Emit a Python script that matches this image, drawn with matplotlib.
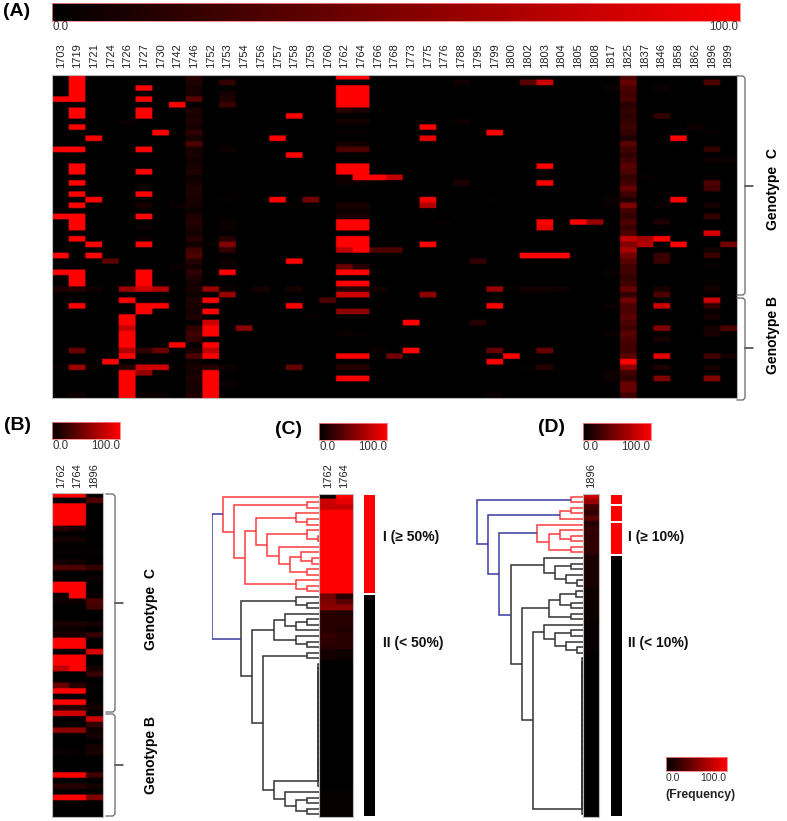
#!/usr/bin/env python3

import matplotlib
matplotlib.use('Agg')
import matplotlib.pyplot as plt
from matplotlib.colors import LinearSegmentedColormap
import numpy as np

plt.rcParams['font.family'] = ['Liberation Sans', 'DejaVu Sans']

W, H = 787, 821
nr_rows = 58

positions = [1703, 1719, 1721, 1724, 1726, 1727, 1730, 1742, 1746, 1752, 1753, 1754, 1756, 1757,
             1758, 1759, 1760, 1762, 1764, 1766, 1768, 1773, 1775, 1776, 1788, 1795, 1799, 1800,
             1802, 1803, 1804, 1805, 1808, 1817, 1825, 1837, 1846, 1858, 1862, 1896, 1899]

# frequency per sample row, rows not listed are 0
f1703 = {4: 100, 13: 100, 25: 100, 32: 100, 35: 100, 38: 12, 52: 4}
f1719 = {0: 100, 1: 100, 2: 100, 3: 100, 4: 100, 6: 100, 7: 100, 9: 100, 13: 100, 16: 100, 17: 100,
         19: 100, 21: 100, 23: 100, 25: 100, 26: 100, 27: 100, 29: 100, 35: 100, 36: 100, 37: 100,
         38: 15, 41: 100, 49: 40, 52: 62, 57: 5}
f1721 = {11: 100, 22: 100, 30: 100, 32: 100, 38: 6, 52: 5}
f1724 = {33: 35, 51: 100}
f1726 = {8: 4, 38: 60, 40: 100, 43: 100, 44: 100, 45: 78, 46: 100, 47: 100, 48: 100, 49: 70, 50: 100,
         52: 15, 53: 100, 54: 100, 55: 100, 56: 100, 57: 100}
f1727 = {2: 100, 4: 100, 6: 100, 7: 100, 13: 100, 17: 100, 19: 3, 21: 100, 23: 10, 25: 100, 27: 5,
         29: 5, 30: 100, 35: 100, 36: 100, 37: 100, 38: 80, 41: 100, 42: 100, 49: 18, 52: 82, 53: 58, 57: 5}
f1730 = {10: 100, 38: 70, 41: 100, 49: 40, 52: 82, 57: 5}
f1742 = {5: 100, 23: 4, 34: 4, 48: 100}
f1746 = {0: 15, 1: 12, 2: 8, 3: 10, 4: 35, 6: 12, 7: 10, 8: 12, 9: 8, 10: 18, 11: 8, 12: 30, 13: 10,
         14: 10, 15: 7, 16: 10, 17: 12, 18: 5, 19: 8, 20: 12, 21: 12, 22: 10, 23: 8, 24: 5, 25: 12,
         26: 15, 27: 12, 28: 8, 29: 15, 30: 5, 31: 25, 32: 30, 33: 15, 34: 8, 35: 18, 36: 12, 37: 8,
         38: 10, 39: 5, 40: 12, 41: 10, 42: 8, 43: 12, 44: 3, 45: 18, 46: 25, 47: 20, 49: 10, 50: 30,
         51: 5, 52: 10, 53: 8, 54: 12, 55: 10, 56: 8, 57: 12}
f1752 = {30: 3, 38: 60, 40: 100, 42: 100, 44: 80, 45: 100, 46: 100, 48: 100, 49: 75, 50: 100, 52: 15,
         53: 100, 54: 100, 55: 100, 56: 100, 57: 100}
f1753 = {1: 20, 3: 8, 4: 12, 5: 22, 13: 5, 22: 3, 26: 4, 27: 4, 29: 15, 30: 50, 31: 20, 33: 5, 34: 5,
         35: 100, 38: 5, 39: 60, 52: 5, 55: 5}
f1754 = {45: 55, 51: 2}
f1756 = {38: 10}
f1757 = {11: 100, 22: 100, 52: 3}
f1758 = {7: 100, 14: 100, 23: 3, 33: 100, 38: 10, 41: 100, 52: 40}
f1759 = {22: 45, 43: 3}
f1760 = {40: 30}
f1762 = {0: 100, 2: 100, 3: 100, 4: 100, 5: 100, 6: 15, 8: 8, 10: 3, 12: 8, 13: 30, 16: 100, 17: 100,
         18: 5, 19: 5, 23: 10, 24: 5, 25: 10, 26: 100, 27: 100, 29: 100, 30: 100, 31: 75, 34: 40,
         35: 100, 37: 100, 38: 15, 39: 80, 42: 55, 46: 5, 50: 100, 52: 15, 54: 100}
f1764 = {0: 100, 2: 100, 3: 100, 4: 100, 5: 100, 6: 10, 8: 8, 10: 3, 12: 6, 13: 30, 16: 100, 17: 100,
         18: 100, 19: 5, 23: 10, 24: 5, 25: 10, 26: 100, 27: 100, 29: 100, 30: 100, 31: 100, 34: 15,
         35: 100, 37: 100, 38: 15, 39: 80, 42: 55, 46: 3, 50: 100, 52: 15, 54: 100}
f1766 = {18: 100, 31: 30, 38: 8, 49: 5}
f1768 = {18: 75, 31: 30, 50: 45}
f1773 = {44: 100, 49: 100}
f1775 = {9: 100, 11: 92, 22: 95, 23: 70, 30: 100, 39: 55}
f1776 = {26: 3}
f1788 = {1: 8, 8: 6, 19: 12}
f1795 = {33: 20, 44: 15}
f1799 = {10: 100, 22: 3, 38: 60, 41: 100, 49: 40, 51: 100, 57: 5}
f1800 = {38: 3, 50: 100}
f1802 = {1: 35, 32: 100, 38: 8, 52: 3}
f1803 = {1: 80, 16: 100, 19: 100, 26: 100, 27: 90, 32: 100, 38: 8, 49: 40, 52: 15}
f1804 = {32: 100, 38: 6}
f1805 = {26: 100}
f1808 = {26: 60}
f1817 = {2: 5, 22: 5, 23: 3, 35: 4, 41: 4, 46: 4, 53: 5, 54: 5}
f1825 = {0: 30, 1: 40, 2: 30, 3: 25, 4: 28, 5: 15, 6: 20, 7: 18, 8: 20, 9: 25, 10: 20, 11: 12, 12: 35,
         13: 25, 14: 20, 15: 25, 16: 35, 17: 30, 18: 20, 19: 25, 20: 40, 21: 25, 22: 12, 23: 50, 24: 25,
         25: 20, 26: 30, 27: 22, 28: 30, 29: 75, 30: 50, 31: 65, 32: 45, 33: 35, 34: 25, 35: 25, 36: 20,
         37: 25, 38: 40, 39: 20, 40: 45, 41: 30, 42: 30, 43: 35, 44: 30, 45: 25, 46: 35, 47: 30, 48: 25,
         49: 25, 50: 35, 51: 100, 52: 55, 53: 25, 54: 20, 55: 40, 56: 40, 57: 25}
f1837 = {18: 3, 29: 65, 30: 70}
f1846 = {2: 5, 7: 20, 23: 5, 26: 12, 29: 100, 32: 22, 33: 22, 38: 10, 39: 30, 41: 80, 45: 50, 47: 10,
         50: 90, 52: 12, 54: 50}
f1858 = {11: 100, 12: 3, 22: 100, 30: 100}
f1862 = {9: 6}
f1896 = {1: 30, 10: 3, 13: 20, 15: 5, 18: 4, 19: 30, 20: 25, 23: 8, 25: 20, 28: 85, 31: 8, 32: 22,
         34: 3, 37: 3, 38: 8, 40: 80, 41: 20, 42: 5, 43: 8, 45: 8, 46: 10, 50: 25, 52: 8, 54: 50}
f1899 = {15: 5, 30: 45, 45: 30, 50: 8}

columns = [f1703, f1719, f1721, f1724, f1726, f1727, f1730, f1742, f1746, f1752, f1753, f1754, f1756,
           f1757, f1758, f1759, f1760, f1762, f1764, f1766, f1768, f1773, f1775, f1776, f1788, f1795,
           f1799, f1800, f1802, f1803, f1804, f1805, f1808, f1817, f1825, f1837, f1846, f1858, f1862,
           f1896, f1899]

# clustered panels, rows in dendrogram order
c_1762 = [2, 80, 78] + [100] * 15 + [45, 50, 55, 15, 15, 15, 15, 20, 18, 15, 8, 8] + [0] * 23 + [3] * 5
c_1764 = [100, 90, 78] + [100] * 15 + [15, 35, 55, 12, 15, 15, 12, 15, 15, 15, 6, 6] + [0] * 23 + [3] * 5
d_1896 = [80, 60, 25, 20, 35, 15, 20, 18, 18, 18, 18, 10, 10, 10, 10, 10, 10, 5, 6, 5, 6, 5, 5, 3, 3, 3,
          3, 3, 3] + [0] * 29

R, K, B = '#ff3c3c', '#333333', '#3a3a9e'


def chain(first, last, height, color):
  # identical rows merge one after the other
  node = first
  for r in range(first + 1, last + 1):
    node = (height, color, node, r)
  return node


c_red = (89.8, R, 0, (79.6, R, (11.1, R, 1, 2),
         (69.0, R,
          (58.8, R, (21.4, R, 3, (11.1, R, 4, 5)),
           (48.3, R, (11.1, R, 6, (0.9, R, 7, 8)),
            (37.8, R, 9, (27.6, R, (17.0, R, 10, (6.8, R, 11, 12)), (11.1, R, 13, 14))))),
          (21.4, R, 15, (11.1, R, 16, 17)))))
c_black = (73.1, K, (21.4, K, 18, (11.1, K, 19, 20)),
           (62.8, K,
            (42.1, K, (31.9, K, 21, (21.4, K, (11.1, K, 22, 23), 24)), (21.4, K, 25, (11.1, K, 26, 27))),
            (52.6, K, (11.1, K, 28, 29),
             (42.1, K, chain(30, 52, 0.9, K),
              (31.9, K, 53, (21.4, K, (11.1, K, 54, 55), (11.1, K, 56, 57)))))))
c_tree = (100, B, c_red, c_black)

d_black = (66.9, K,
           (35.9, K, 11, (25.7, K, (10.8, K, 12, 13), (15.2, K, 14, (5.0, K, 15, 16)))),
           (56.7, K,
            (31.6, K, (21.4, K, (6.5, K, 17, 18), (10.8, K, 19, 20)), (10.8, K, 21, 22)),
            (46.4, K,
             (35.9, K, 23, (25.7, K, (10.8, K, 24, 25), (15.2, K, 26, (5.0, K, 27, 28)))),
             chain(29, 57, 1.0, K))))
d_red = (42.1, R, 5, (31.6, R, (21.4, R, 6, (10.8, R, 7, 8)), (10.8, R, 9, 10)))
d_tree = (98.1, B, (10.8, R, 0, 1),
          (87.6, B, (21.4, R, (10.8, R, 2, 3), 4),
           (77.4, B, d_red, d_black)))

# (first row, number of rows, colour)
c_groups = [(0, 18, '#ff0000'), (18, 40, '#000000')]
d_groups = [(0, 2, '#ff0000'), (2, 3, '#ff0000'), (5, 6, '#ff0000'), (11, 47, '#000000')]

cmap = LinearSegmentedColormap.from_list('blackred', ['#000000', '#ff0000'])

fig = plt.figure(figsize=(W / 100, H / 100), dpi=100)


def px_axes(x0, y0, x1, y1):
  return fig.add_axes([x0 / W, 1 - y1 / H, (x1 - x0) / W, (y1 - y0) / H])


def heatmap(box, mat):
  ax = px_axes(*box)
  # repeat the cells so bilinear only softens their edges
  soft = np.repeat(np.repeat(mat, 4, axis=0), 12, axis=1)
  ax.imshow(soft, cmap=cmap, vmin=0, vmax=100, aspect='auto', interpolation='bilinear',
            extent=(0, mat.shape[1], nr_rows, 0))
  ax.set_xticks([])
  ax.set_yticks([])
  for s in ax.spines.values():
    s.set_color('#bbbbbb')
    s.set_linewidth(0.8)
  return ax


def colorbar(box):
  ax = px_axes(*box)
  ax.imshow(np.linspace(0, 100, 256)[None, :], cmap=cmap, vmin=0, vmax=100, aspect='auto')
  ax.set_xticks([])
  ax.set_yticks([])
  for s in ax.spines.values():
    s.set_color('#ff8080')
    s.set_linewidth(0.6)
  return ax


def draw_tree(ax, node):
  if isinstance(node, int):
    return node + 0.5, 0.0
  height, color, left, right = node
  yl, hl = draw_tree(ax, left)
  yr, hr = draw_tree(ax, right)
  ax.plot([hl, height, height, hr], [yl, yl, yr, yr], color=color, linewidth=1.1,
          solid_joinstyle='miter', solid_capstyle='butt', zorder=2 if color == K else 3)
  return (yl + yr) / 2, height


def dendrogram(box, tree):
  ax = px_axes(*box)
  draw_tree(ax, tree)
  ax.set_xlim(100, 0)
  ax.set_ylim(nr_rows, 0)
  ax.axis('off')


def side_bar(box, groups):
  ax = px_axes(*box)
  for first, n, color in groups:
    ax.broken_barh([(0, 1)], (first + 0.2, n - 0.4), facecolors=color)
  ax.set_xlim(0, 1)
  ax.set_ylim(nr_rows, 0)
  ax.axis('off')


def table(*cols):
  mat = np.zeros((nr_rows, len(cols)))
  for j, col in enumerate(cols):
    for r, v in col.items():
      mat[r, j] = v
  return mat


# panel A
heatmap((52.3, 74.7, 736.7, 398.2), table(*columns))
colorbar((52.3, 3.5, 740, 21))
# panel B
heatmap((52.3, 492.7, 102.7, 816.7), table(f1762, f1764, f1896))
colorbar((52.3, 421.7, 120.3, 439))
# panel C
heatmap((319.3, 494, 352.7, 817), np.array([c_1762, c_1764], dtype=float).T)
colorbar((319.3, 423, 387, 440))
dendrogram((211.7, 494, 319.3, 817), c_tree)
side_bar((363.5, 494, 375, 817), c_groups)
# panel D
heatmap((582.7, 494, 599.3, 817), np.array([d_1896], dtype=float).T)
colorbar((582.7, 423, 650.7, 440))
dendrogram((470 + 338 / 3 - 107.7, 494, 470 + 338 / 3, 817), d_tree)
side_bar((610.7, 494, 622, 817), d_groups)
# frequency key
colorbar((666, 756.7, 727, 771))

# page layer for labels and brackets, in pixels
page = fig.add_axes([0, 0, 1, 1], zorder=10)
page.set_xlim(0, W)
page.set_ylim(H, 0)
page.axis('off')


def column_labels(x0, step, labels):
  for i, label in enumerate(labels):
    page.text(x0 + step * (i + 0.5), 68, str(label), rotation=90, ha='center', va='bottom',
              fontsize=8, color='#222222')


def bracket(x0, x1, top, mid, bottom):
  page.plot([x0, x1 - 2, x1, x1, x1 + 8, x1, x1, x1 - 2, x0],
            [top, top, top + 2, mid, mid, mid, bottom - 2, bottom, bottom],
            color='#666666', linewidth=0.9)


def scale_labels(x0, x1, y, size=8.3):
  page.text(x0, y, '0.0', ha='left', va='center', fontsize=size, color='#333333')
  page.text(x1, y, '100.0', ha='right', va='center', fontsize=size, color='#333333')


step_a = (736.7 - 52.3) / len(positions)
column_labels(52.3, step_a, positions)
for i, label in enumerate([1762, 1764, 1896]):
  page.text(52.3 + 16.8 * (i + 0.5), 488, str(label), rotation=90, ha='center', va='bottom', fontsize=8, color='#222222')
for i, label in enumerate([1762, 1764]):
  page.text(319.3 + 16.7 * (i + 0.5), 488, str(label), rotation=90, ha='center', va='bottom', fontsize=8, color='#222222')
page.text(591, 488, '1896', rotation=90, ha='center', va='bottom', fontsize=8, color='#222222')

scale_labels(52.3, 738, 27)
scale_labels(52.3, 120, 446)
scale_labels(319.3, 387, 447)
scale_labels(582.7, 650.5, 447)
scale_labels(666, 726, 778, size=7.6)
page.text(700, 795, '(Frequency)', ha='center', va='center', fontsize=8.8, fontweight='bold', color='#222222')

for label, x, y in [('(A)', 3, 12), ('(B)', 4, 426), ('(C)', 275, 430), ('(D)', 538, 428)]:
  page.text(x, y, label, ha='left', va='center', fontsize=14, fontweight='bold', color='black')

bracket(737, 745, 76, 186, 295)
bracket(737, 745, 298, 348, 400)
bracket(106, 115, 494, 603, 712)
bracket(106, 115, 714, 765, 816)

for label, x, y in [('Genotype  C', 773, 189), ('Genotype B', 773, 335),
                    ('Genotype  C', 151, 609), ('Genotype B', 151, 755)]:
  page.text(x, y, label, rotation=90, ha='center', va='center', fontsize=10, fontweight='bold', color='black')

for label, x, y in [('I (≥ 50%)', 383, 537), ('II (< 50%)', 383, 643),
                    ('I (≥ 10%)', 628, 537), ('II (< 10%)', 628, 643)]:
  page.text(x, y, label, ha='left', va='center', fontsize=10, fontweight='bold', color='#111111')

fig.savefig('out.png', dpi=100)
